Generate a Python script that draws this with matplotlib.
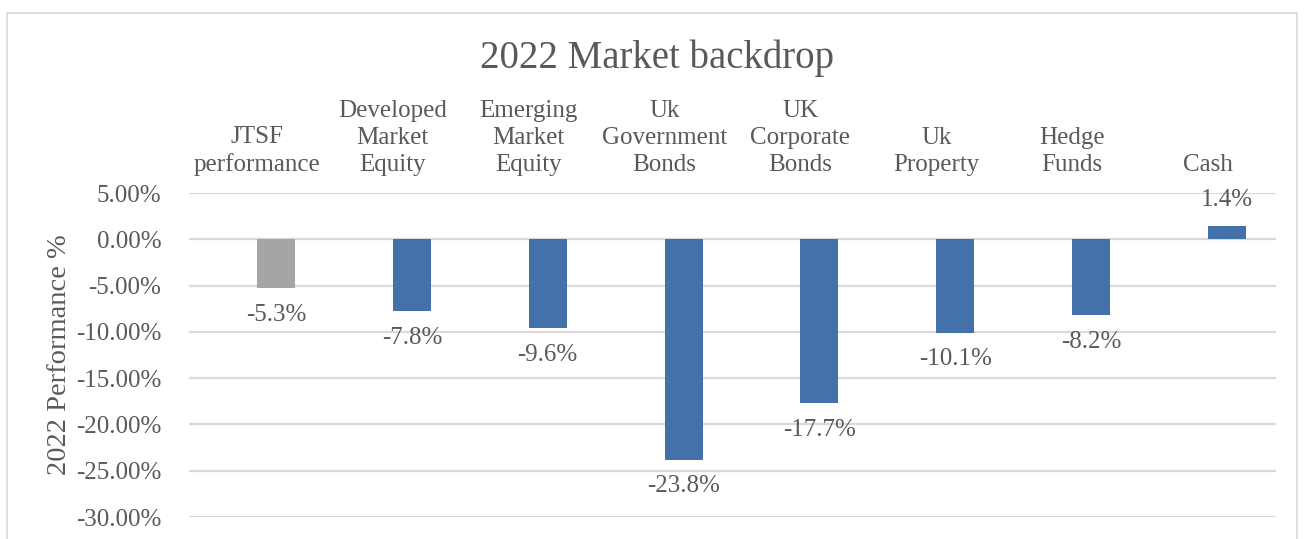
import matplotlib.pyplot as plt
from matplotlib.patches import Rectangle
from matplotlib.ticker import FuncFormatter, MultipleLocator
import numpy as np

# data (fractions of 1)
categories = ["JTSF\nperformance", "Developed\nMarket\nEquity", "Emerging\nMarket\nEquity",
              "Uk\nGovernment\nBonds", "UK\nCorporate\nBonds", "Uk\nProperty",
              "Hedge\nFunds", "Cash"]
performance = [-0.053, -0.078, -0.096, -0.238, -0.177, -0.101, -0.082, 0.014]
bar_colors = ["#A5A5A5"] + ["#4472A8"] * 7

text_color = "#595959"
plt.rcParams["font.family"] = ["Liberation Serif", "DejaVu Serif"]
plt.rcParams["axes.unicode_minus"] = False

fig = plt.figure(figsize=(13.06, 5.39), dpi=100)
W, H = 1306, 539

# chart frame (bottom is cut off in the original)
fig.patches.append(Rectangle((7 / W, -0.1), (1297 - 7) / W, 1.1 - 13 / H,
                             transform=fig.transFigure, fill=False,
                             edgecolor="#D9D9D9", linewidth=1.2))

ax = fig.add_axes([189 / W, 1 - 517 / H, (1276 - 189) / W, (517 - 193) / H])

x = np.arange(len(categories))
bars = ax.bar(x, performance, width=0.28, align="edge", color=bar_colors, zorder=3)

for b, v in zip(bars, performance):
    cx = b.get_x() + b.get_width() / 2
    off = 19 if v > 0 else -19
    ax.annotate(f"{v * 100:.1f}%", (cx, v), xytext=(0, off), textcoords="offset points",
                ha="center", va="center", fontsize=18, color=text_color)

ax.set_xlim(-0.5, len(categories) - 0.5)
ax.set_ylim(-0.30, 0.05)
ax.yaxis.set_major_locator(MultipleLocator(0.05))
ax.yaxis.set_major_formatter(FuncFormatter(lambda v, p: f"{v * 100:.2f}%"))
ax.grid(axis="y", color="#D9D9D9", linewidth=1.6, zorder=0)
ax.set_axisbelow(True)
for s in ax.spines.values():
    s.set_visible(False)

ax.xaxis.tick_top()
ax.set_xticks(x)
ax.set_xticklabels(categories, fontsize=18, color=text_color, linespacing=1.3)
ax.tick_params(axis="x", length=0, pad=12)
ax.tick_params(axis="y", length=0, pad=20, labelsize=18, labelcolor=text_color)

ax.set_ylabel("2022 Performance %", fontsize=20.5, color=text_color)
ax.yaxis.label.set_va("center")
ax.yaxis.set_label_coords((59 - 189) / (1276 - 189), 0.5)

fig.text(657 / W, 1 - 58 / H, "2022 Market backdrop", ha="center", va="center",
         fontsize=28, color=text_color)

fig.savefig("out.png", dpi=100)
